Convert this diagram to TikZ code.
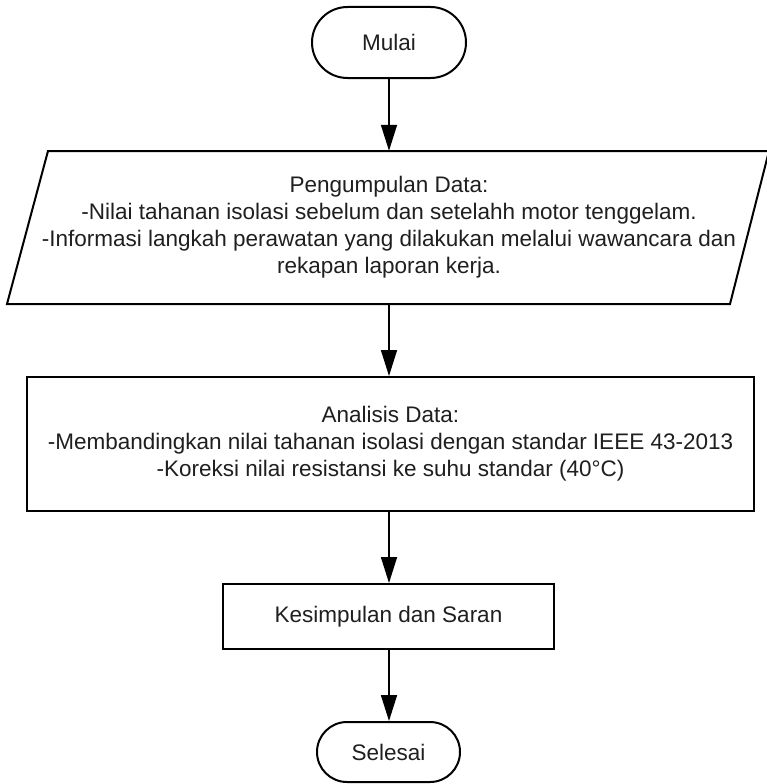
\documentclass[tikz,border=0pt]{standalone}
\usepackage{fontspec}
\setmainfont{Liberation Sans}
\usetikzlibrary{arrows.meta}
\tikzset{
  txt/.style={font=\fontsize{22.5}{27}\selectfont, text=black!88, align=center, inner sep=0pt},
  term/.style={txt, draw, line width=2pt, rectangle},
  procbox/.style={txt, draw, line width=2pt, rectangle},
  flow/.style={line width=1.7pt, -{Triangle[length=26pt,width=16pt]}}
}
\begin{document}
\begin{tikzpicture}[x=1pt,y=-1pt]
\useasboundingbox (0,0) rectangle (767,784);
\fill[white] (0,0) rectangle (767,784);
% terminator start
\node[term, rounded corners=35.5pt, minimum width=154pt, minimum height=71pt] (start) at (389,42.5) {Mulai};
% data (parallelogram)
\draw[line width=2pt, line join=miter] (48,151) -- (769,151) -- (730,304) -- (7,304) -- cycle;
\node[txt, minimum width=682pt, minimum height=153pt] (data) at (389,227.5) {Pengumpulan Data:\\-Nilai tahanan isolasi sebelum dan setelahh motor tenggelam.\\-Informasi langkah perawatan yang dilakukan melalui wawancara dan\\rekapan laporan kerja.};
% analysis
\node[procbox, minimum width=727pt, minimum height=134pt] (anal) at (390.5,444) {Analisis Data:\\-Membandingkan nilai tahanan isolasi dengan standar IEEE 43-2013\\-Koreksi nilai resistansi ke suhu standar (40°C)};
% conclusion
\node[procbox, minimum width=331pt, minimum height=65pt] (concl) at (388.5,616.5) {Kesimpulan dan Saran};
% terminator end
\node[term, rounded corners=30pt, minimum width=143pt, minimum height=60pt] (end) at (388.5,752) {Selesai};
% connectors
\draw[flow] (start.south) -- (start.south |- data.north);
\draw[flow] (data.south) -- (data.south |- anal.north);
\draw[flow] (data.south |- anal.south) -- (data.south |- concl.north);
\draw[flow] (data.south |- concl.south) -- (data.south |- end.north);
\end{tikzpicture}
\end{document}
